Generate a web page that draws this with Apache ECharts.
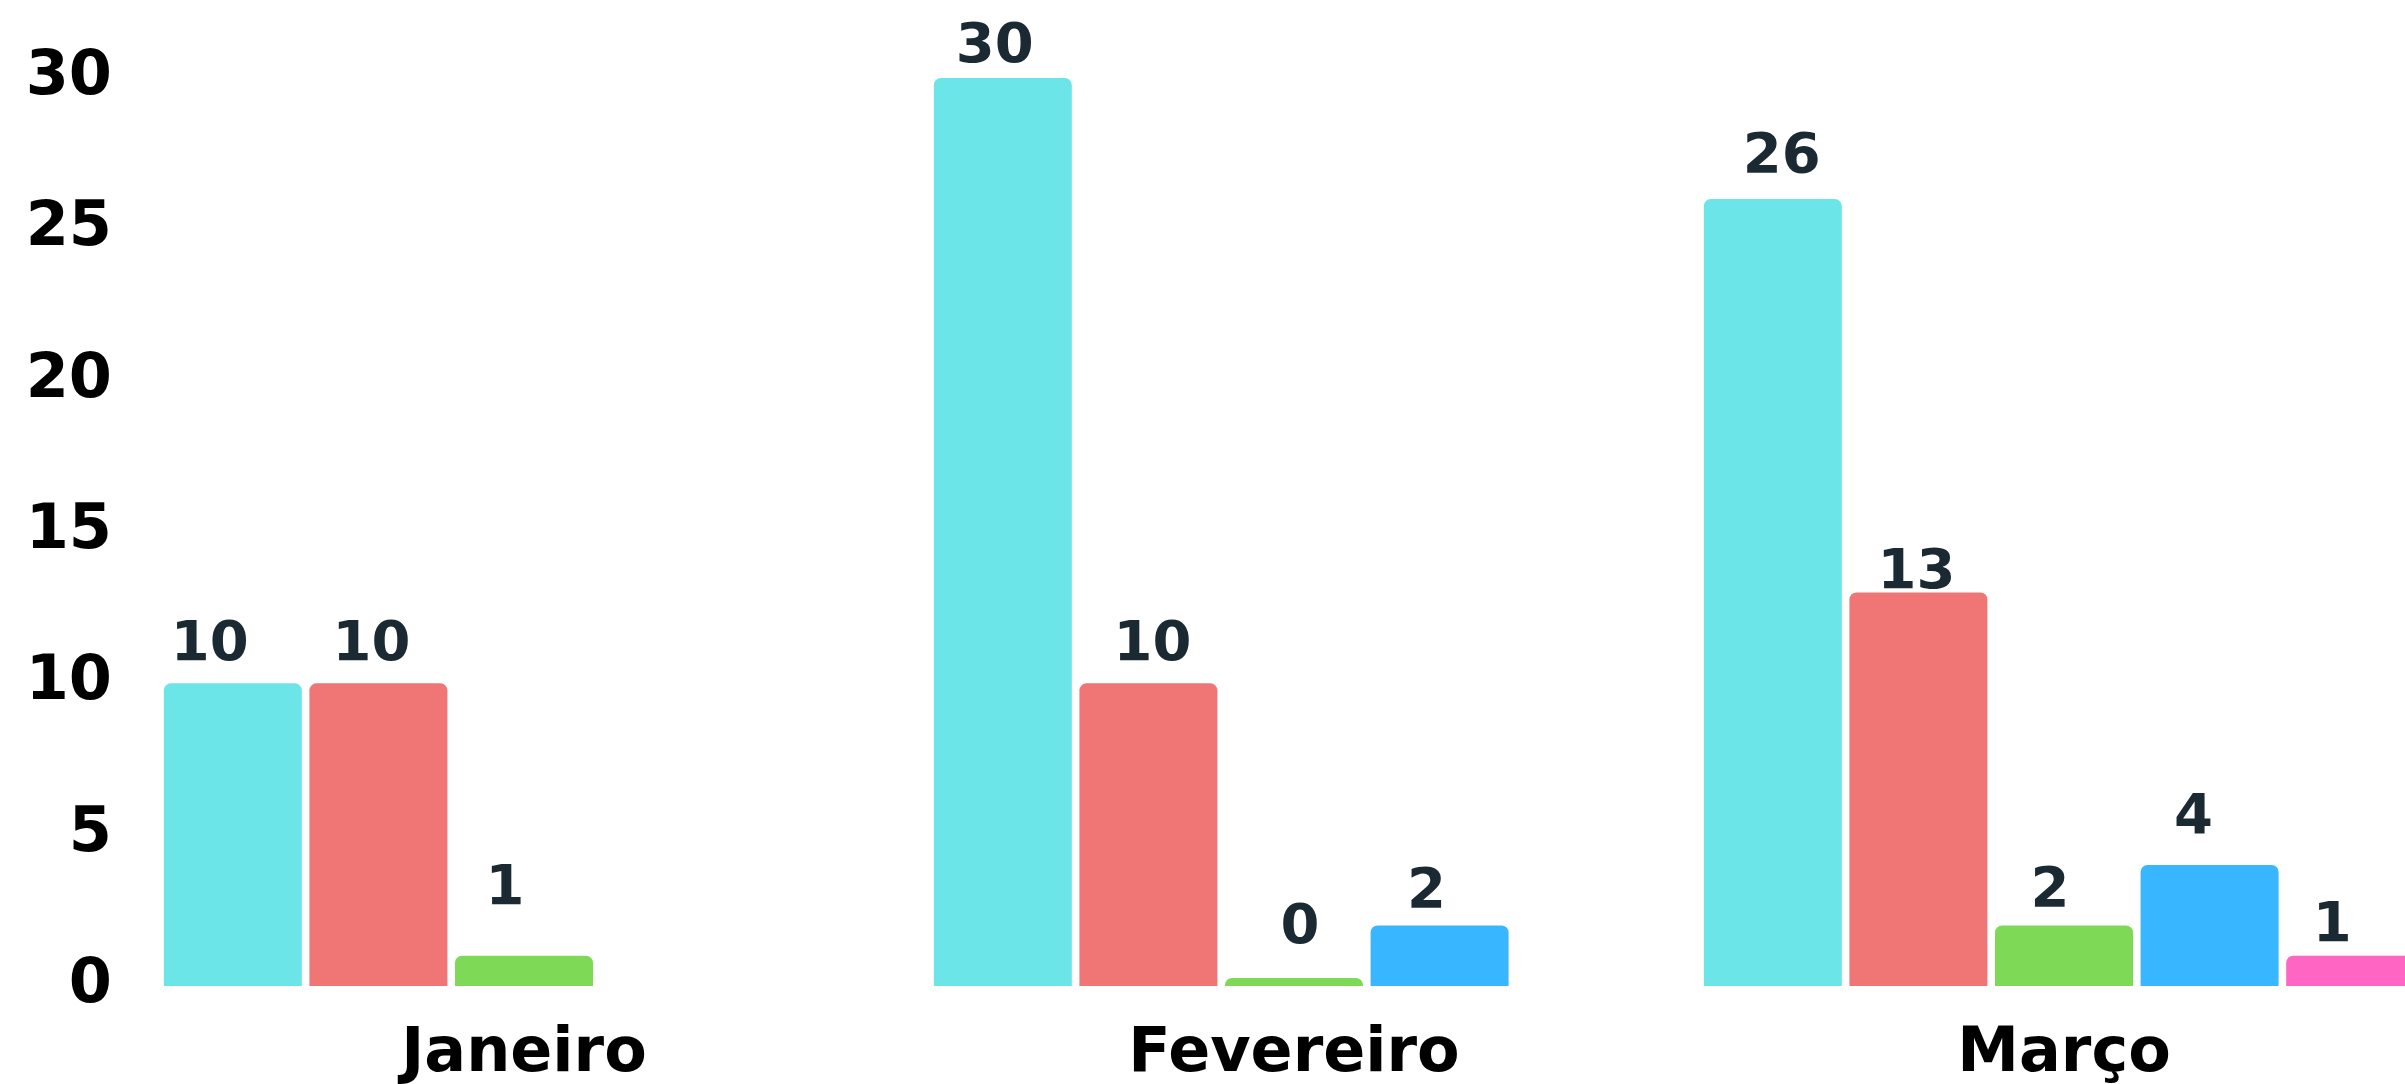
<!DOCTYPE html>
<html>
<head>
<meta charset="utf-8">
<script src="https://cdn.jsdelivr.net/npm/echarts@6/dist/echarts.min.js"></script>
<style>
	html, body { margin: 0; padding: 0; background: #fff; }
	#chart { width: 2405px; height: 1084px; }
</style>
</head>
<body>
<div id="chart"></div>
<script>
var months = [ 'Janeiro', 'Fevereiro', 'Março' ];
var yTicks = [ 0, 5, 10, 15, 20, 25, 30 ];

// one list per colour, '-' where the month has no bar
var serie1 = [ 10, 30, 26 ];
var serie2 = [ 10, 10, 13 ];
var serie3 = [ 1, 0, 2 ];
var serie4 = [ '-', 2, 4 ];
var serie5 = [ '-', '-', 1 ];

var colors = [ '#6ce5e8', '#f07676', '#7ed957', '#38b6ff', '#ff66c4' ];
var font = 'DejaVu Sans';

// small label nudges [dx, dy] so the value labels sit where the original put them
var nudges = [
	[ [ -23, 0 ], [ -8, 7 ], [ 9, -4 ] ],
	[ [ -7, 0 ], [ 4, 0 ], [ -2, 19 ] ],
	[ [ -19, -28 ], [ 6, -12 ], [ -14, 4 ] ],
	[ [ 0, 0 ], [ -13, 5 ], [ -16, -8 ] ],
	[ [ 0, 0 ], [ 0, 0 ], [ -23, 9 ] ]
];

function makeSerie(name, values, color, nudge) {
	return {
		name: name,
		type: 'bar',
		data: values.map(function(v, i) {
			return { value: v, label: { offset: nudge[i] } };
		}),
		barWidth: 138,
		barGap: '5.5%',
		barMinHeight: 8,
		itemStyle: {
			color: color,
			borderRadius: [ 7, 7, 0, 0 ]
		},
		label: {
			show: true,
			position: 'top',
			distance: 10,
			color: '#1b2a32',
			fontFamily: font,
			fontWeight: 'bold',
			fontSize: 56
		}
	};
}

var chart = echarts.init(document.getElementById('chart'));
chart.setOption({
	animation: false,
	grid: {
		left: 139,
		top: 78,
		width: 2310,
		bottom: 98,
		containLabel: false,
		outerBoundsMode: 'none'
	},
	xAxis: {
		type: 'category',
		data: months,
		axisLine: { show: false },
		axisTick: { show: false },
		axisLabel: {
			margin: 38,
			color: '#000',
			fontFamily: font,
			fontWeight: 'bold',
			fontSize: 62
		}
	},
	yAxis: {
		type: 'value',
		min: yTicks[0],
		max: yTicks[yTicks.length - 1],
		interval: yTicks[1] - yTicks[0],
		splitLine: { show: false },
		axisLine: { show: false },
		axisTick: { show: false },
		axisLabel: {
			margin: 27,
			padding: [ 6, 0, 0, 0 ],
			color: '#000',
			fontFamily: font,
			fontWeight: 'bold',
			fontSize: 62
		}
	},
	series: [
		makeSerie('Série 1', serie1, colors[0], nudges[0]),
		makeSerie('Série 2', serie2, colors[1], nudges[1]),
		makeSerie('Série 3', serie3, colors[2], nudges[2]),
		makeSerie('Série 4', serie4, colors[3], nudges[3]),
		makeSerie('Série 5', serie5, colors[4], nudges[4])
	]
});
</script>
</body>
</html>
